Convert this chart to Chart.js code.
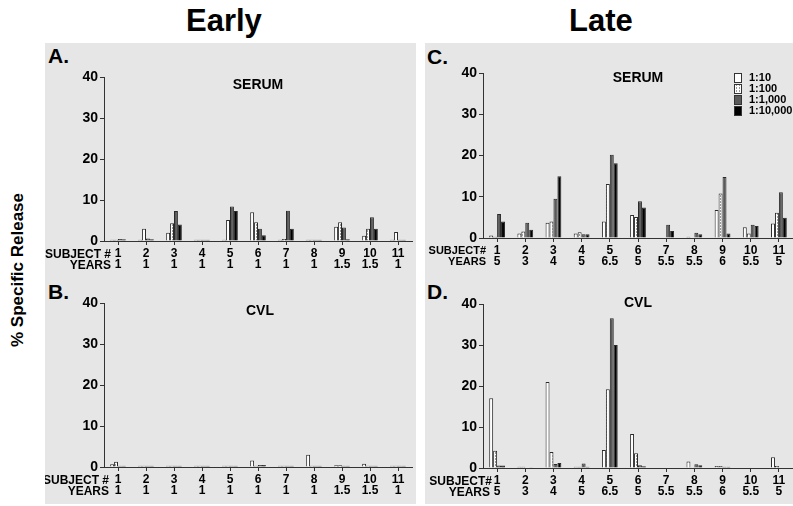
<!DOCTYPE html>
<html>
<head>
<meta charset="utf-8">
<script src="https://cdn.jsdelivr.net/npm/chart.js@4/dist/chart.umd.min.js"></script>
<style>
  html,body{margin:0;padding:0;background:#fff;}
  body{width:793px;height:506px;position:relative;overflow:hidden;font-family:"Liberation Sans",Arial,sans-serif;}
  .panel{position:absolute;background:#e6e6e6;}
  .abs{position:absolute;font-weight:bold;color:#000;white-space:nowrap;}
  canvas{position:absolute;}
  .sq{position:absolute;width:8px;height:10px;border:1px solid #333;box-sizing:border-box;}
</style>
</head>
<body>
<div class="panel" style="left:45px;top:43px;width:371px;height:461px;"></div>
<div class="panel" style="left:425px;top:43px;width:368px;height:461px;"></div>

<div class="abs" style="left:186px;top:3px;font-size:31px;">Early</div>
<div class="abs" style="left:569px;top:3px;font-size:31px;">Late</div>
<div class="abs" style="left:18px;top:270px;font-size:17px;transform:translate(-50%,-50%) rotate(-90deg);">% Specific Release</div>

<div class="abs" style="left:48px;top:44px;font-size:21px;">A.</div>
<div class="abs" style="left:48px;top:280px;font-size:21px;">B.</div>
<div class="abs" style="left:427px;top:45px;font-size:21px;">C.</div>
<div class="abs" style="left:427px;top:280px;font-size:21px;">D.</div>

<canvas id="cA" width="371" height="220" style="left:45px;top:60px;"></canvas>
<canvas id="cB" width="371" height="221" style="left:45px;top:285px;"></canvas>
<canvas id="cC" width="368" height="225" style="left:425px;top:55px;"></canvas>
<canvas id="cD" width="368" height="221" style="left:425px;top:285px;"></canvas>

<div id="legend"></div>

<script>
// ---- data ----
const subjects = ['1','2','3','4','5','6','7','8','9','10','11'];
const yearsEarly = ['1','1','1','1','1','1','1','1','1.5','1.5','1'];
const yearsLate = ['5','3','4','5','6.5','5','5.5','5.5','6','5.5','5'];
const dilutions = ['1:10','1:100','1:1,000','1:10,000'];
const yTicks = [0,10,20,30,40];

const earlySerum10    = [0.3,0.3,2.0,0.3,0.3,7.0,0.3,0.3,3.5,1.3,0.3];
const earlySerum100   = [0.3,3.0,4.3,0.3,5.1,4.6,0.5,0.3,4.6,3.0,2.2];
const earlySerum1000  = [0.5,0.6,7.3,0.3,8.4,3.0,7.4,0.3,3.3,5.8,0.3];
const earlySerum10000 = [0.4,0.4,4.0,0.3,7.3,1.4,3.0,0.3,0.4,3.0,0.3];

const earlyCVL10    = [0.7,0.3,0.3,0.3,0.3,1.6,0.3,3.0,0.4,0.8,0.3];
const earlyCVL100   = [1.3,0.3,0.3,0.3,0.3,0.3,0.3,0.3,0.4,0.3,0.3];
const earlyCVL1000  = [0.3,0.3,0.3,0.3,0.3,0.5,0.3,0.3,0.3,0.3,0.3];
const earlyCVL10000 = [0.3,0.3,0.3,0.3,0.3,0.5,0.3,0.3,0.3,0.3,0.3];

const lateSerum10    = [0.6,1.1,3.7,1.1,4.0,5.6,0.1,0.3,6.8,2.6,3.5];
const lateSerum100   = [0.3,1.6,4.0,1.4,13.1,5.1,0.1,0.1,10.8,1.1,6.1];
const lateSerum1000  = [5.8,3.7,9.5,0.9,20.2,8.9,3.2,1.3,14.8,3.2,11.1];
const lateSerum10000 = [4.0,2.0,15.0,0.9,18.1,7.4,1.7,0.9,1.1,2.9,4.9];

const lateCVL10    = [17.0,0.3,21.0,0.3,4.4,8.3,0,1.6,0.5,0,2.6];
const lateCVL100   = [4.2,0.3,3.9,0.3,19.2,3.6,0,0.2,0.5,0,0.5];
const lateCVL1000  = [0.6,0.1,1.0,1.1,36.5,0.7,0,0.9,0.3,0,0];
const lateCVL10000 = [0.6,0.2,1.2,0.3,30.0,0.4,0,0.7,0.3,0,0];

// ---- styles ----
function makePattern(){
  const c = document.createElement('canvas');
  c.width = 3; c.height = 3;
  const g = c.getContext('2d');
  g.fillStyle = '#ffffff'; g.fillRect(0,0,3,3);
  g.fillStyle = '#9a9a9a'; g.fillRect(1,0,1,1); g.fillRect(1,2,1,1);
  return c;
}
const patCanvas = makePattern();
const fills = ['#ffffff', null, '#5a5a5a', '#000000'];

function buildChart(id, title, years, series, opts){
  const ctx = document.getElementById(id).getContext('2d');
  const pattern = ctx.createPattern(patCanvas, 'repeat');
  const colors = [fills[0], pattern, fills[2], fills[3]];
  const labels = subjects.map((s,i)=>[s, years[i]]);
  const LH = 11;
  const PAD = 3;
  const rowLabels = {
    id: 'rowLabels',
    afterDraw(chart){
      const c = chart.ctx, xs = chart.scales.x, ys = chart.scales.y;
      c.save();
      c.fillStyle = '#000';
      c.font = 'bold ' + opts.rowFont + 'px "Liberation Sans", Arial, sans-serif';
      c.textAlign = 'right';
      c.textBaseline = 'top';
      const y0 = xs.top + 4 + PAD + 0.5;
      c.fillText(opts.subjText, xs.left + opts.subjDx, y0);
      c.fillText('YEARS', xs.left + opts.yearsDx, y0 + LH);
      c.font = 'bold 14px "Liberation Sans", Arial, sans-serif';
      c.textAlign = 'center';
      c.textBaseline = 'middle';
      c.fillText(title, xs.left + opts.titleDx, ys.top + opts.titleDy);
      c.restore();
    }
  };
  return new Chart(ctx, {
    type: 'bar',
    data: {
      labels: labels,
      datasets: series.map((d,i)=>({
        label: dilutions[i],
        data: d,
        backgroundColor: colors[i],
        borderColor: '#2a2a2a',
        borderWidth: 1,
        borderSkipped: 'start',
        categoryPercentage: 0.56,
        barPercentage: 1.0
      }))
    },
    options: {
      responsive: false,
      animation: false,
      devicePixelRatio: 1,
      layout: { padding: { top: opts.padTop, right: opts.padRight, left: 0, bottom: 0 } },
      plugins: { legend: { display: false }, tooltip: { enabled: false } },
      scales: {
        y: {
          min: 0, max: 40,
          afterFit(s){ s.width = opts.yWidth; },
          afterBuildTicks(s){ s.ticks = yTicks.map(v=>({value:v})); },
          border: { display: true, color: '#333', width: 1 },
          grid: { drawOnChartArea: false, drawTicks: true, tickLength: 4, color: '#333' },
          ticks: { color: '#000', padding: 2, font: { size: 14, weight: 'bold', family: '"Liberation Sans", Arial, sans-serif' } }
        },
        x: {
          afterFit(s){ s.height = opts.xHeight; },
          border: { display: true, color: '#333', width: 1 },
          grid: { drawOnChartArea: false, drawTicks: true, tickLength: 4, offset: false, color: '#333' },
          ticks: { color: '#000', padding: PAD, autoSkip: false, maxRotation: 0, minRotation: 0,
                   font: { size: 12, weight: 'bold', lineHeight: LH/12, family: '"Liberation Sans", Arial, sans-serif' } }
        }
      }
    },
    plugins: [rowLabels]
  });
}

buildChart('cA', 'SERUM', yearsEarly,
  [earlySerum10, earlySerum100, earlySerum1000, earlySerum10000],
  { padTop: 17, padRight: 4, yWidth: 59, xHeight: 39, subjText: 'SUBJECT #', subjDx: 7, yearsDx: 7, rowFont: 12, titleDx: 154, titleDy: 8 });
buildChart('cB', 'CVL', yearsEarly,
  [earlyCVL10, earlyCVL100, earlyCVL1000, earlyCVL10000],
  { padTop: 18, padRight: 4, yWidth: 59, xHeight: 39, subjText: 'SUBJECT #', subjDx: 5, yearsDx: 5, rowFont: 12, titleDx: 156, titleDy: 8 });
buildChart('cC', 'SERUM', yearsLate,
  [lateSerum10, lateSerum100, lateSerum1000, lateSerum10000],
  { padTop: 18, padRight: 0, yWidth: 58, xHeight: 42, subjText: 'SUBJECT#', subjDx: 3, yearsDx: 3, rowFont: 11, titleDx: 155, titleDy: 5 });
buildChart('cD', 'CVL', yearsLate,
  [lateCVL10, lateCVL100, lateCVL1000, lateCVL10000],
  { padTop: 19, padRight: 0, yWidth: 58, xHeight: 38, subjText: 'SUBJECT#', subjDx: 9, yearsDx: 7, rowFont: 12, titleDx: 155, titleDy: -1 });

// ---- legend (panel C) ----
const leg = document.getElementById('legend');
const legFills = ['#ffffff', null, '#5a5a5a', '#000000'];
dilutions.forEach((name,i)=>{
  const top = 73 + i*11;
  const sq = document.createElement('div');
  sq.className = 'sq';
  sq.style.left = '734px'; sq.style.top = top + 'px';
  if (i === 1) {
    sq.style.backgroundImage = 'url(' + patCanvas.toDataURL() + ')';
  } else {
    sq.style.background = legFills[i];
  }
  leg.appendChild(sq);
  const t = document.createElement('div');
  t.className = 'abs';
  t.style.left = '749px'; t.style.top = (top - 2) + 'px';
  t.style.fontSize = '11px';
  t.style.lineHeight = '13px';
  t.textContent = name;
  leg.appendChild(t);
});
</script>
</body>
</html>
